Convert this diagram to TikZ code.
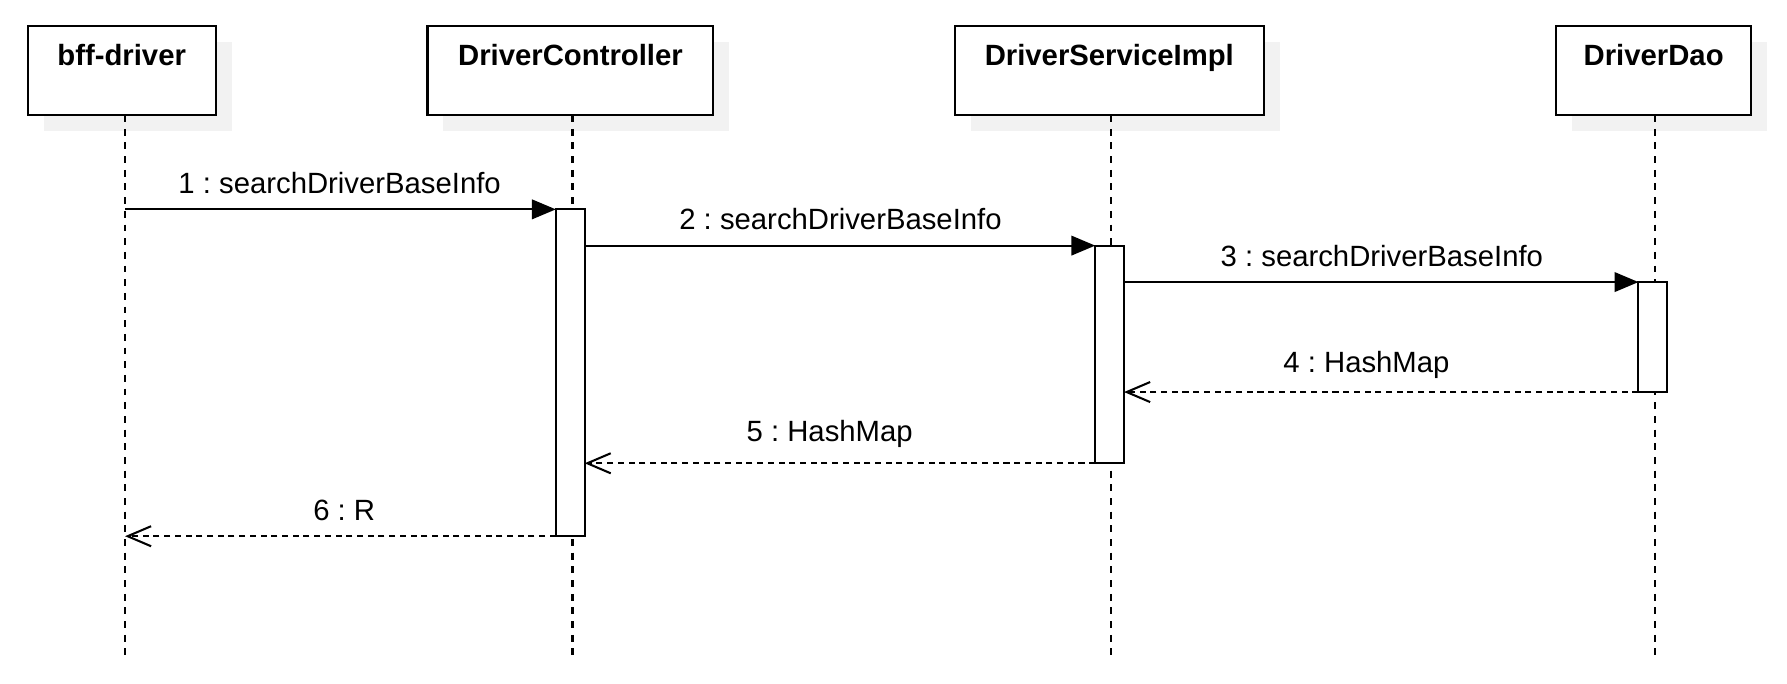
\documentclass[tikz,border=0pt]{standalone}
\usepackage{fontspec}
\setmainfont{Liberation Sans}
\usetikzlibrary{arrows.meta,shadows}
\definecolor{shadowgray}{RGB}{242,242,242}
\frenchspacing
\tikzset{
  headbox/.style={draw=black, line width=0.9pt, fill=white, inner sep=0pt, outer sep=0pt,
    minimum height=39.1pt,
    general shadow={fill=shadowgray, shadow xshift=7pt, shadow yshift=-7pt}},
  headtext/.style={anchor=base, inner sep=0pt, font=\fontsize{12.85pt}{15pt}\selectfont\bfseries},
  lifeline/.style={line width=1pt, dash pattern=on 3pt off 3pt},
  actbar/.style={draw=black, line width=0.9pt, fill=white, inner sep=0pt, outer sep=0pt, minimum width=12.65pt},
  callmsg/.style={line width=0.9pt, -{Triangle[length=10.5pt,width=8.6pt]}},
  retmsg/.style={line width=0.9pt, dash pattern=on 2.65pt off 2.05pt, -{Straight Barb[length=10.3pt,width=8.8pt]}},
  msgtext/.style={anchor=base, inner sep=0pt, font=\fontsize{12.85pt}{15pt}\selectfont}
}
\begin{document}
\begin{tikzpicture}[x=0.5pt,y=-0.5pt]
\useasboundingbox (0,0) rectangle (1568,600);
% header boxes
\node[headbox, minimum width=82.55pt] (bff) at (106.75,61.9) {};
\node[headbox, minimum width=125.45pt] (ctrl) at (500.55,61.9) {};
\node[headbox, minimum width=135.45pt] (svc) at (973.35,61.9) {};
\node[headbox, minimum width=85.6pt] (dao) at (1451,61.9) {};
\node[headtext] (bfft) at (106.75,57.5) {bff-driver};
\node[headtext] (ctrlt) at (500.55,57.5) {DriverController};
\node[headtext] (svct) at (973.35,57.5) {DriverServiceImpl};
\node[headtext] (daot) at (1451,57.5) {DriverDao};
% lifelines
\coordinate (bffL) at (109.7,576.5);
\coordinate (ctrlL) at (502.4,576.5);
\coordinate (svcL) at (974.8,576.5);
\coordinate (daoL) at (1452.2,576.5);
\draw[lifeline] (bff.south -| bffL) -- (bffL);
\draw[lifeline] (ctrl.south -| ctrlL) -- (ctrlL);
\draw[lifeline] (svc.south -| svcL) -- (svcL);
\draw[lifeline] (dao.south -| daoL) -- (daoL);
% activation bars
\node[actbar, minimum height=143.4pt] (act1) at (500.35,327.1) {};
\node[actbar, minimum height=95.5pt] (act2) at (973.65,311) {};
\node[actbar, minimum height=48.25pt] (act3) at (1450.3,295.75) {};
% messages
\draw[callmsg] (act1.north west -| bffL) -- (act1.north west);
\draw[callmsg] (act1.east |- act2.north) -- (act2.north west);
\draw[callmsg] (act2.east |- act3.north) -- (act3.north west);
\draw[retmsg] (act3.south west) -- (act3.south west -| act2.east);
\draw[retmsg] (act2.south west) -- (act2.south west -| act1.east);
\draw[retmsg] (act1.south west) -- (act1.south west -| bffL);
% message labels
\node[msgtext] (l1) at (298,169.6) {1 : searchDriverBaseInfo};
\node[msgtext] (l2) at (737.5,201.5) {2 : searchDriverBaseInfo};
\node[msgtext] (l3) at (1212.5,233.5) {3 : searchDriverBaseInfo};
\node[msgtext] (l4) at (1199,327) {4 : HashMap};
\node[msgtext] (l5) at (728,387.5) {5 : HashMap};
\node[msgtext] (l6) at (302,456.3) {6 : R};
\end{tikzpicture}
\end{document}
